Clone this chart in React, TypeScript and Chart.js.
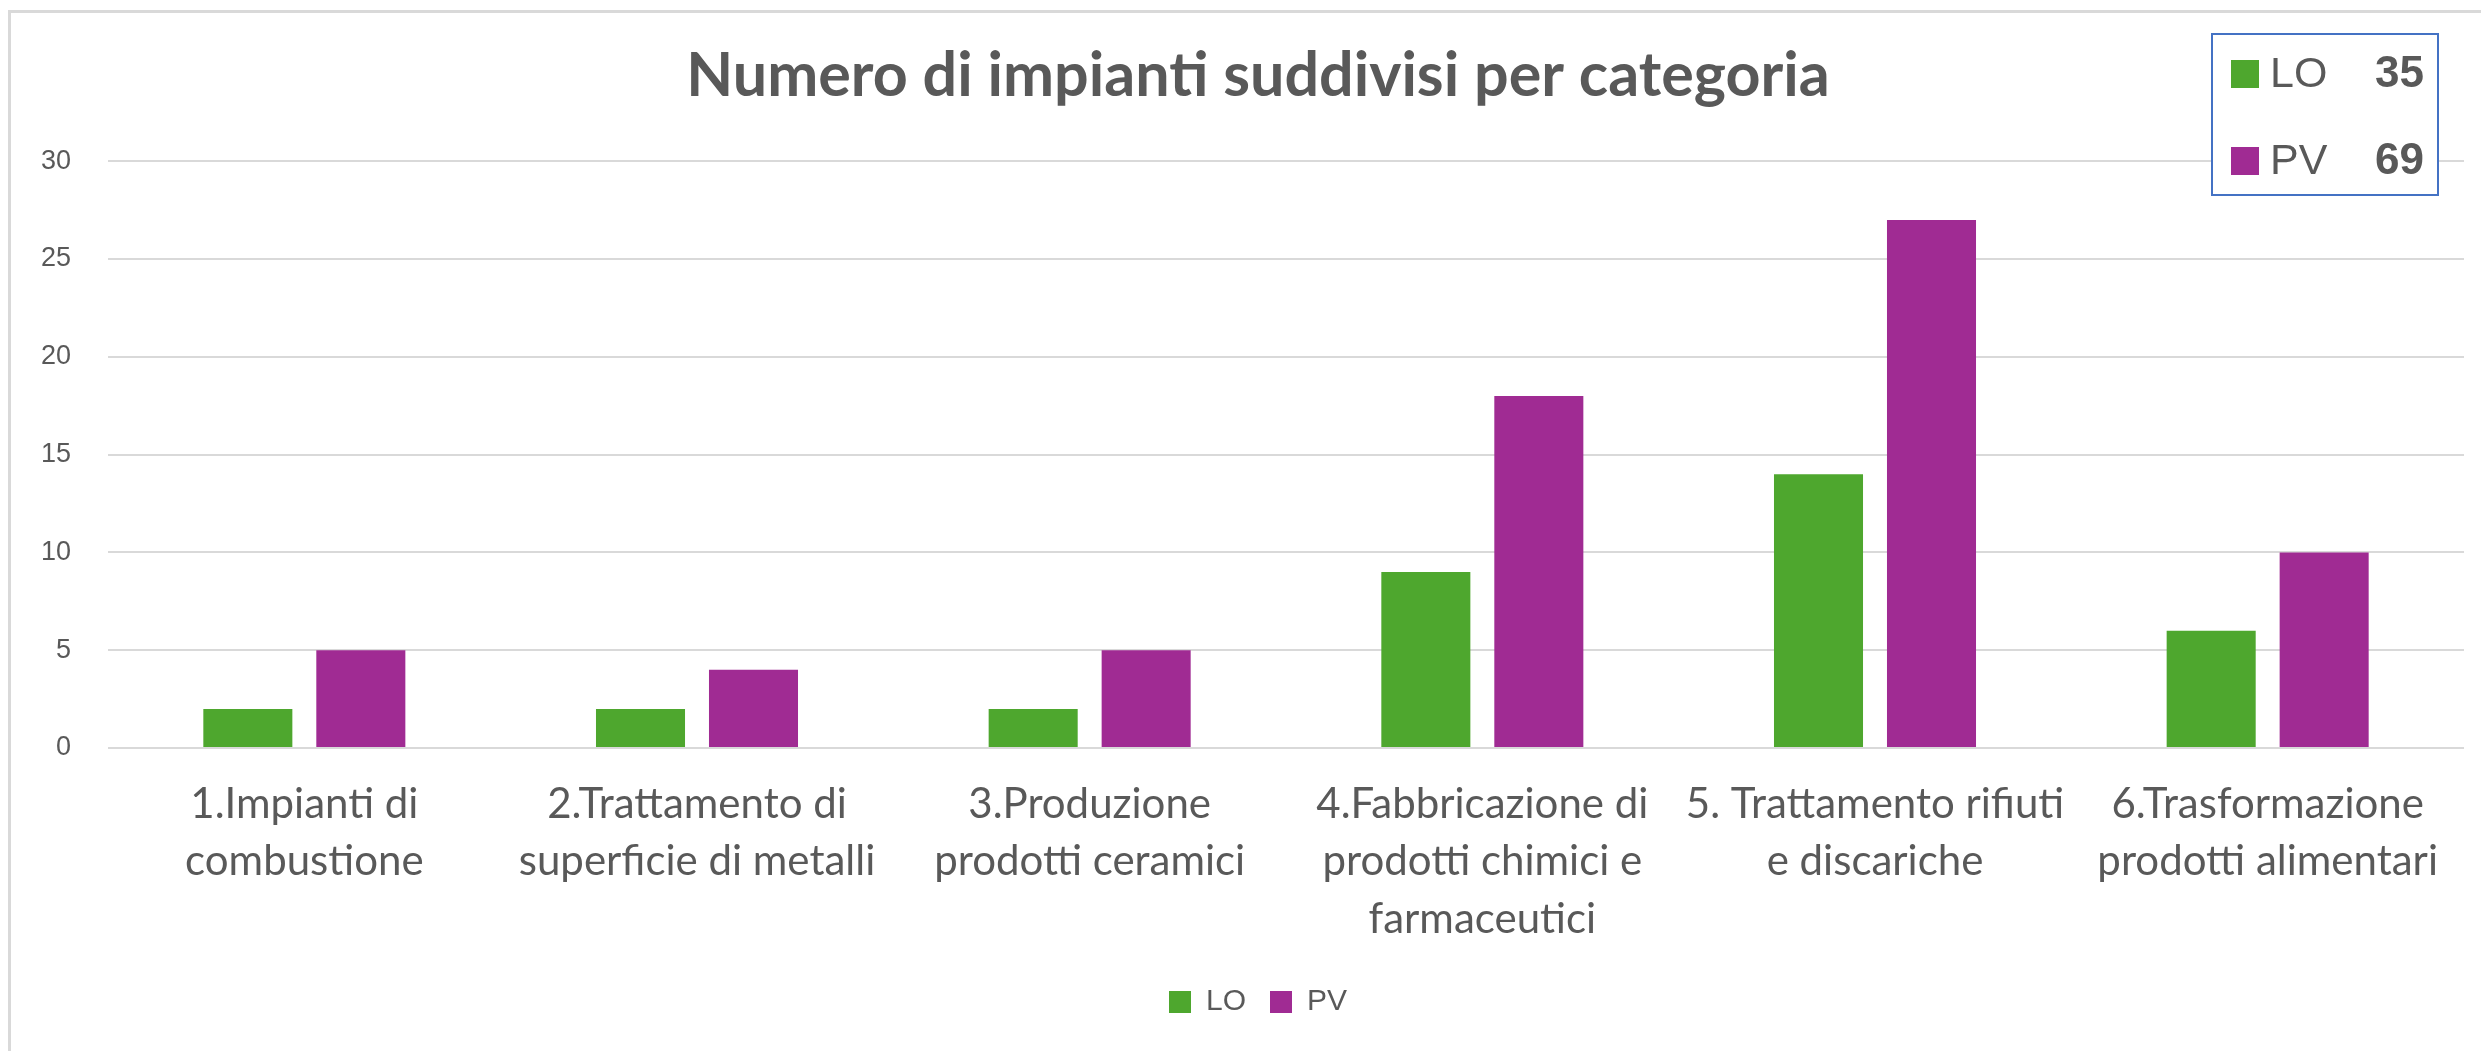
import React, { useEffect, useRef } from "react";
import { Chart, registerables } from "chart.js";

Chart.register(...registerables);

// ---- data ----
const categories: string[][] = [
  ["1.Impianti di", "combustione"],
  ["2.Trattamento di", "superficie di metalli"],
  ["3.Produzione", "prodotti ceramici"],
  ["4.Fabbricazione di", "prodotti chimici e", "farmaceutici"],
  ["5. Trattamento rifiuti", "e discariche"],
  ["6.Trasformazione", "prodotti alimentari"],
];
const seriesNames = ["LO", "PV"];
const loValues = [2, 2, 2, 9, 14, 6];
const pvValues = [5, 4, 5, 18, 27, 10];
const yMin = 0;
const yMax = 30;
const yStep = 5;
const titleText = "Numero di impianti suddivisi per categoria";

// ---- styles ----
const GREEN = "#4EA72E";
const PURPLE = "#A02B93";
const TEXT = "#595959";
const GRID = "#D9D9D9";
const W = 2481;
const H = 1051;

const sum = (a: number[]) => a.reduce((s, v) => s + v, 0);

const framePlugin = {
  id: "frame",
  beforeDraw(chart: any) {
    const { ctx, width, height } = chart;
    ctx.save();
    ctx.fillStyle = "#ffffff";
    ctx.fillRect(0, 0, width, height);
    ctx.strokeStyle = GRID;
    ctx.lineWidth = 3;
    ctx.beginPath();
    ctx.moveTo(9.5, height);
    ctx.lineTo(9.5, 11.5);
    ctx.lineTo(width, 11.5);
    ctx.stroke();
    ctx.restore();
  },
};

const totalsPlugin = {
  id: "totalsBox",
  afterDraw(chart: any) {
    const { ctx, chartArea } = chart;
    const rows = [
      { name: seriesNames[0], color: GREEN, total: sum(loValues) },
      { name: seriesNames[1], color: PURPLE, total: sum(pvValues) },
    ];
    const bw = 226;
    const bh = 161;
    const x0 = chartArea.right - 252;
    const y0 = 34;
    ctx.save();
    ctx.fillStyle = "#ffffff";
    ctx.fillRect(x0, y0, bw, bh);
    ctx.strokeStyle = "#4472C4";
    ctx.lineWidth = 2;
    ctx.strokeRect(x0, y0, bw, bh);
    rows.forEach((r, i) => {
      const cy = y0 + 40 + i * 87;
      ctx.fillStyle = r.color;
      ctx.fillRect(x0 + 19, cy - 14, 28, 28);
      ctx.fillStyle = TEXT;
      ctx.textBaseline = "middle";
      ctx.textAlign = "left";
      ctx.font = "43px 'Liberation Sans', Arial, sans-serif";
      ctx.fillText(r.name, x0 + 58, cy + 1);
      ctx.textAlign = "right";
      ctx.font = "bold 44px 'Liberation Sans', Arial, sans-serif";
      ctx.fillText(String(r.total), x0 + 212, cy + 1);
    });
    ctx.restore();
  },
};

export default function App() {
  const ref = useRef<HTMLCanvasElement | null>(null);

  useEffect(() => {
    if (!ref.current) return;
    const chart = new Chart(ref.current, {
      type: "bar",
      data: {
        labels: categories,
        datasets: [
          {
            label: seriesNames[0],
            data: loValues,
            backgroundColor: GREEN,
            categoryPercentage: 0.5755,
            barPercentage: 0.788,
          },
          {
            label: seriesNames[1],
            data: pvValues,
            backgroundColor: PURPLE,
            categoryPercentage: 0.5755,
            barPercentage: 0.788,
          },
        ],
      },
      options: {
        responsive: false,
        animation: false,
        events: [],
        layout: { padding: { left: 52, right: 17, top: 10, bottom: 24 } },
        plugins: {
          title: {
            display: true,
            text: titleText,
            color: TEXT,
            font: { family: "Lato, 'Open Sans', sans-serif", size: 61, weight: "bold" },
            padding: { top: 30, bottom: 48 },
          },
          legend: {
            display: true,
            position: "bottom",
            labels: {
              color: TEXT,
              font: { family: "'Liberation Sans', Arial, sans-serif", size: 30 },
              boxWidth: 22,
              boxHeight: 22,
              padding: 24,
            },
          },
          tooltip: { enabled: false },
        },
        scales: {
          x: {
            grid: { display: false, drawTicks: false, tickLength: 0 },
            border: { display: false },
            ticks: {
              color: TEXT,
              font: { family: "Lato, 'Open Sans', sans-serif", size: 42, lineHeight: 1.38 },
              padding: 27,
              maxRotation: 0,
              minRotation: 0,
              autoSkip: false,
            },
            afterFit: (s: any) => {
              s.height = 215;
            },
          },
          y: {
            min: yMin,
            max: yMax,
            grid: { color: GRID, lineWidth: 2, drawTicks: false, tickLength: 0 },
            border: { display: false },
            ticks: {
              stepSize: yStep,
              color: TEXT,
              font: { family: "'Liberation Sans', Arial, sans-serif", size: 27 },
              padding: 37,
            },
            afterFit: (s: any) => {
              s.width = 56;
            },
            afterUpdate: (s: any) => {
              // let tick labels extend past the narrow axis box without clipping
              s._computeLabelArea = () => undefined;
            },
          },
        },
      },
      plugins: [framePlugin, totalsPlugin],
    } as any);
    return () => chart.destroy();
  }, []);

  return (
    <div style={{ position: "absolute", left: 0, top: 0, width: W, height: H, background: "#fff" }}>
      <canvas ref={ref} width={W} height={H} style={{ display: "block" }} />
    </div>
  );
}
